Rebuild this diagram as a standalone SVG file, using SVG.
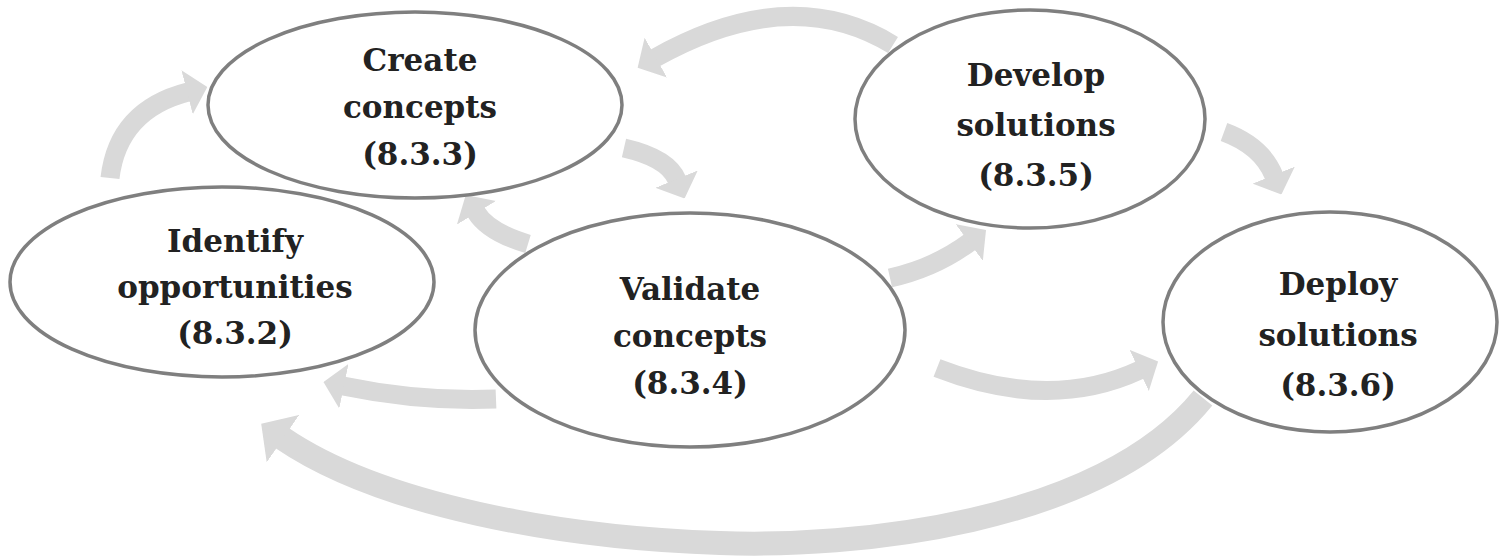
<svg xmlns="http://www.w3.org/2000/svg" width="1499" height="557" viewBox="0 0 1499 557">
<style>
.node ellipse{fill:#ffffff;stroke:#7f7f7f;stroke-width:3.5}
.node text{font-family:"DejaVu Serif","Liberation Serif",serif;font-weight:bold;font-size:31px;fill:#222222;text-anchor:middle}
.conn path{fill:none;stroke:#d9d9d9;stroke-width:19;stroke-linecap:butt}
.conn path.big{stroke-width:24}
</style>
<defs>
<marker id="ah" viewBox="0 0 11 24" refX="0.5" refY="12" markerWidth="1.1" markerHeight="2.4" markerUnits="strokeWidth" orient="auto">
<path d="M0,0 L11,12 L0,24 z" fill="#d9d9d9"/>
</marker>
</defs>
<rect width="1499" height="557" fill="#ffffff"/>
<g id="connectors" class="conn">
<path d="M110 178 Q118 110 188 92" marker-end="url(#ah)"/>
<path d="M893 45 Q790 -18 655 58" marker-end="url(#ah)"/>
<path d="M624 148 Q668 158 677 180" marker-end="url(#ah)"/>
<path d="M528 244 Q488 232 476 212" marker-end="url(#ah)"/>
<path d="M890 278 Q935 268 970 242" marker-end="url(#ah)"/>
<path d="M1224 132 Q1262 146 1274 176" marker-end="url(#ah)"/>
<path d="M496 399 Q420 402 343 386" marker-end="url(#ah)"/>
<path d="M937 368 Q1050 412 1140 370" marker-end="url(#ah)"/>
<path class="big" d="M1203 398 C1100 525 850 548 720 543 C560 538 380 505 282 438" marker-end="url(#ah)"/>
</g>
<g id="node-create" class="node">
<ellipse cx="415" cy="105" rx="207" ry="93"/>
<text x="420" y="71">Create</text>
<text x="420" y="118">concepts</text>
<text x="420" y="165">(8.3.3)</text>
</g>
<g id="node-identify" class="node">
<ellipse cx="222" cy="282" rx="212" ry="95"/>
<text x="235" y="252">Identify</text>
<text x="235" y="298">opportunities</text>
<text x="235" y="344">(8.3.2)</text>
</g>
<g id="node-validate" class="node">
<ellipse cx="690" cy="330" rx="215" ry="117"/>
<text x="690" y="300">Validate</text>
<text x="690" y="347">concepts</text>
<text x="690" y="394">(8.3.4)</text>
</g>
<g id="node-develop" class="node">
<ellipse cx="1030" cy="119" rx="175" ry="109"/>
<text x="1036" y="86">Develop</text>
<text x="1036" y="136">solutions</text>
<text x="1036" y="186">(8.3.5)</text>
</g>
<g id="node-deploy" class="node">
<ellipse cx="1330" cy="322" rx="167" ry="110"/>
<text x="1338" y="295">Deploy</text>
<text x="1338" y="346">solutions</text>
<text x="1338" y="396">(8.3.6)</text>
</g>
</svg>
